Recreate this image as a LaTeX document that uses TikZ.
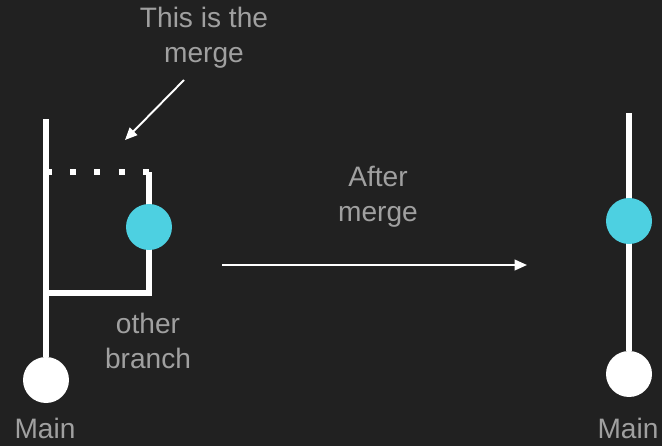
\documentclass[tikz,border=0pt]{standalone}
\usepackage{fontspec}
\setmainfont{Liberation Sans}
\usetikzlibrary{arrows.meta}
\definecolor{bg}{HTML}{212121}
\definecolor{cyancommit}{HTML}{4DD0E1}
\definecolor{labelgray}{HTML}{A0A0A0}

\begin{document}
\begin{tikzpicture}[x=0.02cm, y=-0.02cm,
  branch/.style={draw=white, line width=2.9pt},
  commit/.style={circle, fill=white, minimum size=0.92cm, inner sep=0pt},
  newcommit/.style={circle, fill=cyancommit, minimum size=0.92cm, inner sep=0pt},
  label/.style={text=labelgray, font=\fontsize{16}{20}\selectfont, align=center},
  pointer/.style={draw=white, line width=1.1pt, -{Triangle[length=7pt, width=6pt]}}]
\fill[bg] (0,0) rectangle (662,446);
\useasboundingbox (0,0) rectangle (662,446);
% before the merge
\coordinate (top) at (46,119);
\coordinate (fork) at (46,293);
\coordinate (corner) at (149,293);
\coordinate (tip) at (149,172);
\coordinate (join) at (46,172);
\node[commit] (base) at (46,380) {};
\draw[branch] (base) -- (top);
\draw[branch] (fork) -- (corner) -- (tip);
\draw[draw=white, line width=3.2pt, dash pattern=on 3.4pt off 10.4pt] (join) -- (152,172);
\node[newcommit] (feat) at (149,227) {};
\node[label] (other) at (148,341) {other\\branch};
\node[label] (mainl) at (45,428) {Main};
\node[label] (note) at (204,38) {This is the\\merge};
\coordinate (notefrom) at (184,80);
\coordinate (noteto) at (125,140);
\draw[pointer] (notefrom) -- (noteto);
% arrow between
\coordinate (from) at (222,265);
\coordinate (to) at (527,265);
\draw[pointer] (from) -- (to);
\node[label] (after) at (378,197) {After\\merge};
% after the merge
\coordinate (top2) at (629,113);
\node[commit] (base2) at (629,374) {};
\draw[branch] (base2) -- (top2);
\node[newcommit] (feat2) at (629,221) {};
\node[label] (mainr) at (628,428) {Main};
\end{tikzpicture}
\end{document}
